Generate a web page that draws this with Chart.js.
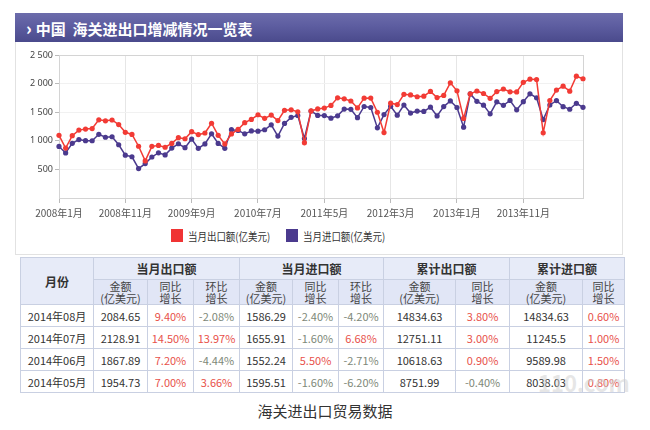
<!DOCTYPE html>
<html lang="zh-cn">
<head>
<meta charset="UTF-8">
<title>海关进出口贸易数据</title>
<script src="https://cdn.jsdelivr.net/npm/chart.js"></script>
<style>
    body { margin: 0; width: 650px; height: 430px; background: #fff; position: relative; overflow: hidden;
           font-family: "Noto Sans CJK SC", "Noto Sans", sans-serif; }
    #titlebar { position: absolute; left: 15px; top: 13px; width: 608px; height: 29px;
                background: linear-gradient(to bottom, #6c6cab 0%, #5d5da0 45%, #4a4a8c 100%);
                color: #fff; font-weight: bold; font-size: 15px; line-height: 29px; box-sizing: border-box; padding-left: 11px; }
    #titlebar b { font-size: 17px; margin-right: 4px; }
    #panel { position: absolute; left: 15px; top: 42px; width: 608px; height: 213px; border: 1px solid #e2e2e2; border-top: 0; box-sizing: border-box; }
    #chartbox { position: absolute; left: 0; top: 42px; width: 650px; height: 186px; }
    .leg { position: absolute; top: 229px; font-size: 11px; color: #333; line-height: 14px; }
    .leg i { position: absolute; top: 0; width: 12px; height: 13px; left: 0; }
    .leg span { position: absolute; left: 17px; top: 0; white-space: nowrap; transform: scaleX(0.86); transform-origin: left center; }
    table { position: absolute; left: 20px; top: 257px; width: 604px; border-collapse: collapse; table-layout: fixed; }
    td, th { border: 1px solid #c9d0e2; text-align: center; padding: 0; font-size: 11px; color: #333; }
    th { background: #e1e6f6; font-weight: bold; color: #333; }
    tr.h1 th { height: 21px; font-size: 12px; background: #e7ebf8; }
    tr.h2 th { height: 23px; font-weight: normal; line-height: 12px; color: #444; }
    tbody td { height: 21px; }
    .up { color: #e8514a; }
    .dn { color: #7e8878; }
    #caption { position: absolute; left: 0; width: 650px; top: 400px; text-align: center; font-size: 15px; color: #333; }
    #mark { position: absolute; left: 538px; top: 366px; font-size: 22px; font-weight: bold; color: rgba(205,205,205,0.5); }
</style>
</head>
<body>
<div id="titlebar"><b>›</b>中国&nbsp;&nbsp;海关进出口增减情况一览表</div>
<div id="panel"></div>
<div id="chartbox"><canvas id="line-chart"></canvas></div>
<div class="leg" style="left:171px"><i style="background:#f03434"></i><span>当月出口额(亿美元)</span></div>
<div class="leg" style="left:286px"><i style="background:#4b3a8e"></i><span>当月进口额(亿美元)</span></div>

<table id="conteudo">
    <colgroup>
        <col style="width:73px"><col style="width:54px"><col style="width:46px"><col style="width:46px">
        <col style="width:53px"><col style="width:46px"><col style="width:45px"><col style="width:72px">
        <col style="width:54px"><col style="width:73px"><col style="width:42px">
    </colgroup>
    <thead>
        <tr class="h1">
            <th rowspan="2">月份</th>
            <th colspan="3">当月出口额</th>
            <th colspan="3">当月进口额</th>
            <th colspan="2">累计出口额</th>
            <th colspan="2">累计进口额</th>
        </tr>
        <tr class="h2">
            <th>金额<br>(亿美元)</th><th>同比<br>增长</th><th>环比<br>增长</th>
            <th>金额<br>(亿美元)</th><th>同比<br>增长</th><th>环比<br>增长</th>
            <th>金额<br>(亿美元)</th><th>同比<br>增长</th>
            <th>金额<br>(亿美元)</th><th>同比<br>增长</th>
        </tr>
    </thead>
    <tbody>
    </tbody>
</table>
<div id="mark">110.com</div>
<div id="caption">海关进出口贸易数据</div>

<script>
    // 月度数据 2008年1月 - 2014年8月
    var startYear = 2008;
    var monthCount = 80;
    var exportSeries = [
        1096, 873, 1089, 1187, 1205, 1214, 1367, 1349, 1364, 1284, 1149, 1111,
        905, 649, 903, 919, 887, 954, 1054, 1036, 1160, 1108, 1136, 1307,
        1095, 945, 1121, 1199, 1317, 1374, 1455, 1393, 1449, 1354, 1533, 1541,
        1507, 967, 1522, 1557, 1572, 1619, 1752, 1733, 1696, 1575, 1745, 1747,
        1499, 1144, 1657, 1633, 1812, 1802, 1770, 1780, 1863, 1755, 1794, 2013,
        1874, 1392, 1821, 1871, 1827, 1743, 1860, 1906, 1857, 1854, 2022, 2077,
        2071, 1141, 1703, 1887, 1955, 1868, 2129, 2085
    ];
    var importSeries = [
        901, 788, 955, 1021, 1003, 1001, 1114, 1062, 1071, 931, 749, 721,
        514, 601, 717, 790, 753, 872, 948, 879, 1030, 868, 945, 1123,
        954, 869, 1194, 1182, 1122, 1173, 1168, 1193, 1280, 1082, 1303, 1410,
        1442, 1040, 1521, 1443, 1441, 1396, 1437, 1555, 1551, 1405, 1600, 1582,
        1226, 1458, 1604, 1448, 1625, 1485, 1519, 1514, 1587, 1435, 1598, 1697,
        1582, 1239, 1820, 1690, 1623, 1471, 1682, 1620, 1705, 1542, 1684, 1821,
        1753, 1371, 1626, 1703, 1596, 1552, 1656, 1586
    ];
    var yTicks = [500, 1000, 1500, 2000, 2500];

    // 表格
    var tableMonths = ['2014年08月', '2014年07月', '2014年06月', '2014年05月'];
    var expAmount   = ['2084.65', '2128.91', '1867.89', '1954.73'];
    var expYoy      = ['9.40%', '14.50%', '7.20%', '7.00%'];
    var expMom      = ['-2.08%', '13.97%', '-4.44%', '3.66%'];
    var impAmount   = ['1586.29', '1655.91', '1552.24', '1595.51'];
    var impYoy      = ['-2.40%', '-1.60%', '5.50%', '-1.60%'];
    var impMom      = ['-4.20%', '6.68%', '-2.71%', '-6.20%'];
    var cumExp      = ['14834.63', '12751.11', '10618.63', '8751.99'];
    var cumExpYoy   = ['3.80%', '3.00%', '0.90%', '-0.40%'];
    var cumImp      = ['14834.63', '11245.5', '9589.98', '8038.03'];
    var cumImpYoy   = ['0.60%', '1.00%', '1.50%', '0.80%'];

    var labels = [];
    for (var i = 0; i < monthCount; i++) {
        labels.push((startYear + Math.floor(i / 12)) + '年' + (i % 12 + 1) + '月');
    }

    function pct(v) {
        return '<td class="' + (v.charAt(0) === '-' ? 'dn' : 'up') + '">' + v + '</td>';
    }

    function fillTable() {
        var tableBody = document.getElementById('conteudo').getElementsByTagName('tbody')[0];
        tableMonths.forEach(function (m, k) {
            var row = tableBody.insertRow();
            row.innerHTML = '<td>' + m + '</td>' +
                '<td>' + expAmount[k] + '</td>' + pct(expYoy[k]) + pct(expMom[k]) +
                '<td>' + impAmount[k] + '</td>' + pct(impYoy[k]) + pct(impMom[k]) +
                '<td>' + cumExp[k] + '</td>' + pct(cumExpYoy[k]) +
                '<td>' + cumImp[k] + '</td>' + pct(cumImpYoy[k]);
        });
    }

    // 绘图区外框
    var frame = {
        id: 'frame',
        beforeDatasetsDraw: function (chart) {
            var a = chart.chartArea, c = chart.ctx;
            c.save();
            c.strokeStyle = '#d4d4d4';
            c.lineWidth = 1;
            c.strokeRect(a.left + 0.5, a.top + 0.5, a.right - a.left, a.bottom - a.top);
            c.restore();
        }
    };

    function createLineChart() {
        var ctx = document.getElementById('line-chart').getContext('2d');
        new Chart(ctx, {
            type: 'line',
            data: {
                labels: labels,
                datasets: [{
                    label: '当月出口额(亿美元)',
                    data: exportSeries,
                    borderColor: '#f23b35',
                    backgroundColor: '#f23b35',
                    borderWidth: 1.5,
                    pointRadius: 2.6,
                    pointBorderWidth: 0,
                    tension: 0
                }, {
                    label: '当月进口额(亿美元)',
                    data: importSeries,
                    borderColor: '#4b3a8e',
                    backgroundColor: '#4b3a8e',
                    borderWidth: 1.5,
                    pointRadius: 2.6,
                    pointBorderWidth: 0,
                    tension: 0
                }]
            },
            options: {
                responsive: true,
                maintainAspectRatio: false,
                animation: false,
                layout: { padding: { left: 0, right: 67, top: 13, bottom: 0 } },
                plugins: { legend: { display: false }, tooltip: { enabled: false } },
                scales: {
                    x: {
                        afterFit: function (s) { s.height = 30; },
                        grid: { color: '#e6e6e6', tickLength: 5, tickColor: '#bbb' },
                        border: { color: '#b8b8b8' },
                        ticks: {
                            autoSkip: false, maxRotation: 0, padding: 4,
                            color: '#555', font: { family: 'Noto Sans CJK SC', size: 10 },
                            callback: function (v, idx) { return idx % 10 === 0 ? labels[idx] : null; }
                        }
                    },
                    y: {
                        min: 0, max: 2500,
                        afterFit: function (s) { s.width = 59; },
                        afterBuildTicks: function (s) { s.ticks = yTicks.map(function (v) { return { value: v }; }); },
                        grid: { color: '#f1f1f1', tickLength: 4, tickColor: '#bbb' },
                        border: { color: '#b8b8b8' },
                        ticks: {
                            padding: 2, color: '#444', font: { family: 'Noto Sans', size: 9 },
                            callback: function (v) { return v >= 1000 ? Math.floor(v / 1000) + ' ' + String(v % 1000).padStart(3, '0') : String(v); }
                        }
                    }
                }
            },
            plugins: [frame]
        });
    }

    fillTable();
    createLineChart();
</script>
</body>
</html>
